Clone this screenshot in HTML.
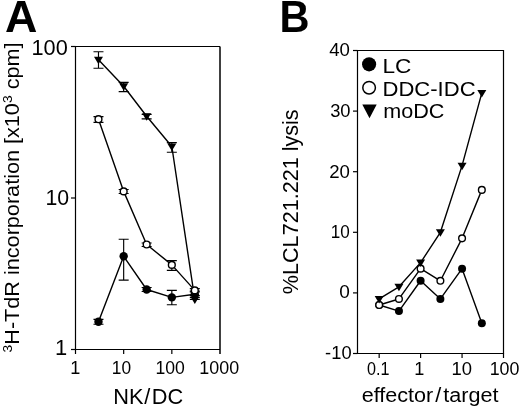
<!DOCTYPE html>
<html><head><meta charset="utf-8"><style>
html,body{margin:0;padding:0;background:#fff;width:520px;height:408px;overflow:hidden}
svg{display:block;will-change:transform;filter:blur(0.3px)}
</style></head><body>
<svg width="520" height="408" viewBox="0 0 520 408">
<rect width="520" height="408" fill="#fff"/>
<g>
<path d="M220.0 46.5V354.0" fill="none" stroke="#000" stroke-width="1.5"/>
<path d="M220.0 46.5H75.5V349.5H220.0" fill="none" stroke="#000" stroke-width="1.2"/>
<path d="M71.0 349.50H75.5" stroke="#000" stroke-width="1.2"/>
<path d="M71.0 198.00H75.5" stroke="#000" stroke-width="1.2"/>
<path d="M71.0 46.50H75.5" stroke="#000" stroke-width="1.2"/>
<path d="M75.50 349.5V354.0" stroke="#000" stroke-width="1.2"/>
<path d="M123.67 349.5V354.0" stroke="#000" stroke-width="1.2"/>
<path d="M171.83 349.5V354.0" stroke="#000" stroke-width="1.2"/>
<polyline points="98.48,59.70 123.67,86.20 146.65,116.20 171.83,146.50 194.81,299.50" fill="none" stroke="#000" stroke-width="1.4" stroke-linejoin="round"/>
<polyline points="98.48,119.20 123.67,191.40 146.65,244.50 171.83,264.90 194.81,290.40" fill="none" stroke="#000" stroke-width="1.4" stroke-linejoin="round"/>
<polyline points="98.48,321.70 123.67,256.30 146.65,289.50 171.83,297.40 194.81,294.30" fill="none" stroke="#000" stroke-width="1.4" stroke-linejoin="round"/>
<path d="M98.48 51.70V68.20M93.48 51.70H103.48M93.48 68.20H103.48" stroke="#000" stroke-width="1.15" fill="none"/>
<path d="M123.67 82.30V91.60M118.67 82.30H128.67M118.67 91.60H128.67" stroke="#000" stroke-width="1.15" fill="none"/>
<path d="M146.65 114.40V118.80M141.65 114.40H151.65M141.65 118.80H151.65" stroke="#000" stroke-width="1.15" fill="none"/>
<path d="M171.83 142.60V152.20M166.83 142.60H176.83M166.83 152.20H176.83" stroke="#000" stroke-width="1.15" fill="none"/>
<path d="M194.81 295.60V299.40M189.81 295.60H199.81M189.81 299.40H199.81" stroke="#000" stroke-width="1.15" fill="none"/>
<path d="M98.48 116.60V122.30M93.48 116.60H103.48M93.48 122.30H103.48" stroke="#000" stroke-width="1.15" fill="none"/>
<path d="M123.67 189.50V193.50M118.67 189.50H128.67M118.67 193.50H128.67" stroke="#000" stroke-width="1.15" fill="none"/>
<path d="M146.65 243.00V246.50M141.65 243.00H151.65M141.65 246.50H151.65" stroke="#000" stroke-width="1.15" fill="none"/>
<path d="M171.83 260.60V270.30M166.83 260.60H176.83M166.83 270.30H176.83" stroke="#000" stroke-width="1.15" fill="none"/>
<path d="M194.81 288.60V291.80M189.81 288.60H199.81M189.81 291.80H199.81" stroke="#000" stroke-width="1.15" fill="none"/>
<path d="M98.48 319.30V324.20M93.48 319.30H103.48M93.48 324.20H103.48" stroke="#000" stroke-width="1.15" fill="none"/>
<path d="M123.67 239.20V280.10M118.67 239.20H128.67M118.67 280.10H128.67" stroke="#000" stroke-width="1.15" fill="none"/>
<path d="M146.65 287.50V291.50M141.65 287.50H151.65M141.65 291.50H151.65" stroke="#000" stroke-width="1.15" fill="none"/>
<path d="M171.83 290.40V304.70M166.83 290.40H176.83M166.83 304.70H176.83" stroke="#000" stroke-width="1.15" fill="none"/>
<path d="M194.81 291.00V297.50M189.81 291.00H199.81M189.81 297.50H199.81" stroke="#000" stroke-width="1.15" fill="none"/>
<circle cx="98.48" cy="321.70" r="4.2" fill="#000"/>
<circle cx="123.67" cy="256.30" r="4.2" fill="#000"/>
<circle cx="146.65" cy="289.50" r="4.2" fill="#000"/>
<circle cx="171.83" cy="297.40" r="4.2" fill="#000"/>
<circle cx="194.81" cy="294.30" r="4.2" fill="#000"/>
<circle cx="98.48" cy="119.20" r="3.4" fill="#fff" stroke="#000" stroke-width="1.4"/>
<circle cx="123.67" cy="191.40" r="3.4" fill="#fff" stroke="#000" stroke-width="1.4"/>
<circle cx="146.65" cy="244.50" r="3.4" fill="#fff" stroke="#000" stroke-width="1.4"/>
<circle cx="171.83" cy="264.90" r="3.4" fill="#fff" stroke="#000" stroke-width="1.4"/>
<circle cx="194.81" cy="290.40" r="3.4" fill="#fff" stroke="#000" stroke-width="1.4"/>
<path d="M93.98 56.70L102.98 56.70L98.48 64.20Z" fill="#000"/>
<path d="M119.17 83.20L128.17 83.20L123.67 90.70Z" fill="#000"/>
<path d="M142.15 113.20L151.15 113.20L146.65 120.70Z" fill="#000"/>
<path d="M167.33 143.50L176.33 143.50L171.83 151.00Z" fill="#000"/>
<path d="M190.31 296.50L199.31 296.50L194.81 304.00Z" fill="#000"/>
</g>
<path d="M357.5 50.5H503.5V353.5H357.5Z" fill="none" stroke="#000" stroke-width="1.2"/>
<path d="M353.0 353.50H357.5" stroke="#000" stroke-width="1.2"/>
<path d="M353.0 292.90H357.5" stroke="#000" stroke-width="1.2"/>
<path d="M353.0 232.30H357.5" stroke="#000" stroke-width="1.2"/>
<path d="M353.0 171.70H357.5" stroke="#000" stroke-width="1.2"/>
<path d="M353.0 111.10H357.5" stroke="#000" stroke-width="1.2"/>
<path d="M353.0 50.50H357.5" stroke="#000" stroke-width="1.2"/>
<path d="M379.17 353.5V358.0" stroke="#000" stroke-width="1.2"/>
<path d="M420.61 353.5V358.0" stroke="#000" stroke-width="1.2"/>
<path d="M462.06 353.5V358.0" stroke="#000" stroke-width="1.2"/>
<path d="M503.50 353.5V358.0" stroke="#000" stroke-width="1.2"/>
<polyline points="379.17,305.02 398.94,311.08 420.61,280.78 440.39,298.96 462.06,268.66 481.83,323.20" fill="none" stroke="#000" stroke-width="1.4" stroke-linejoin="round"/>
<polyline points="379.17,305.02 398.94,298.96 420.61,268.66 440.39,280.78 462.06,238.36 481.83,189.88" fill="none" stroke="#000" stroke-width="1.4" stroke-linejoin="round"/>
<polyline points="379.17,298.96 398.94,286.84 420.61,262.60 440.39,232.30 462.06,165.64 481.83,92.92" fill="none" stroke="#000" stroke-width="1.4" stroke-linejoin="round"/>
<circle cx="379.17" cy="305.02" r="4.0" fill="#000"/>
<circle cx="398.94" cy="311.08" r="4.0" fill="#000"/>
<circle cx="420.61" cy="280.78" r="4.0" fill="#000"/>
<circle cx="440.39" cy="298.96" r="4.0" fill="#000"/>
<circle cx="462.06" cy="268.66" r="4.0" fill="#000"/>
<circle cx="481.83" cy="323.20" r="4.0" fill="#000"/>
<circle cx="379.17" cy="305.02" r="3.35" fill="#fff" stroke="#000" stroke-width="1.4"/>
<circle cx="398.94" cy="298.96" r="3.35" fill="#fff" stroke="#000" stroke-width="1.4"/>
<circle cx="420.61" cy="268.66" r="3.35" fill="#fff" stroke="#000" stroke-width="1.4"/>
<circle cx="440.39" cy="280.78" r="3.35" fill="#fff" stroke="#000" stroke-width="1.4"/>
<circle cx="462.06" cy="238.36" r="3.35" fill="#fff" stroke="#000" stroke-width="1.4"/>
<circle cx="481.83" cy="189.88" r="3.35" fill="#fff" stroke="#000" stroke-width="1.4"/>
<path d="M374.67 295.96L383.67 295.96L379.17 303.46Z" fill="#000"/>
<path d="M394.44 283.84L403.44 283.84L398.94 291.34Z" fill="#000"/>
<path d="M416.11 259.60L425.11 259.60L420.61 267.10Z" fill="#000"/>
<path d="M435.89 229.30L444.89 229.30L440.39 236.80Z" fill="#000"/>
<path d="M457.56 162.64L466.56 162.64L462.06 170.14Z" fill="#000"/>
<path d="M477.33 89.92L486.33 89.92L481.83 97.42Z" fill="#000"/>
<circle cx="369.10" cy="64.35" r="7.05" fill="#000"/>
<circle cx="369.10" cy="87.70" r="6.3" fill="#fff" stroke="#000" stroke-width="1.5"/>
<path d="M362.3 104.5L376.7 104.5L369.5 118.3Z" fill="#000"/>
<g fill="#000">
<g transform="translate(5.10,31.53)"><text font-family='"Liberation Sans", sans-serif' font-size="44.073" font-weight="bold" transform="scale(1.0171,1)">A</text></g>
<g transform="translate(279.62,31.85)"><text font-family='"Liberation Sans", sans-serif' font-size="43.790" font-weight="bold" transform="scale(0.9484,1)">B</text></g>
<g transform="translate(31.50,55.40)"><text font-family='"Liberation Sans", sans-serif' font-size="21.900" transform="scale(0.9912,1)">100</text></g>
<g transform="translate(45.38,205.40)"><text font-family='"Liberation Sans", sans-serif' font-size="21.900" transform="scale(0.9724,1)">10</text></g>
<g transform="translate(54.92,355.00)"><text font-family='"Liberation Sans", sans-serif' font-size="21.900" transform="scale(1.0000,1)">1</text></g>
<g transform="translate(70.22,374.33)"><text font-family='"Liberation Sans", sans-serif' font-size="18.100" transform="scale(1.0000,1)">1</text></g>
<g transform="translate(111.78,374.33)"><text font-family='"Liberation Sans", sans-serif' font-size="18.100" transform="scale(0.9585,1)">10</text></g>
<g transform="translate(155.45,374.33)"><text font-family='"Liberation Sans", sans-serif' font-size="18.100" transform="scale(0.9733,1)">100</text></g>
<g transform="translate(199.28,374.33)"><text font-family='"Liberation Sans", sans-serif' font-size="18.100" transform="scale(0.9895,1)">1000</text></g>
<g transform="translate(113.32,403.58)"><text font-family='"Liberation Sans", sans-serif' font-size="21.364" transform="scale(1.0201,1)">NK<tspan dx="0.6">/</tspan><tspan dx="1.4">DC</tspan></text></g>
<g transform="translate(329.25,56.12)"><text font-family='"Liberation Sans", sans-serif' font-size="18.100" transform="scale(1.0290,1)">40</text></g>
<g transform="translate(330.15,116.62)"><text font-family='"Liberation Sans", sans-serif' font-size="18.100" transform="scale(1.0133,1)">30</text></g>
<g transform="translate(329.15,177.72)"><text font-family='"Liberation Sans", sans-serif' font-size="18.100" transform="scale(1.0298,1)">20</text></g>
<g transform="translate(330.85,237.72)"><text font-family='"Liberation Sans", sans-serif' font-size="18.100" transform="scale(0.9444,1)">10</text></g>
<g transform="translate(339.30,298.23)"><text font-family='"Liberation Sans", sans-serif' font-size="18.100" transform="scale(1.0532,1)">0</text></g>
<g transform="translate(325.10,358.73)"><text font-family='"Liberation Sans", sans-serif' font-size="18.100" transform="scale(1.0122,1)">-10</text></g>
<g transform="translate(367.05,375.48)"><text font-family='"Liberation Sans", sans-serif' font-size="18.100" transform="scale(0.8936,1)">0.1</text></g>
<g transform="translate(414.18,375.48)"><text font-family='"Liberation Sans", sans-serif' font-size="18.100" transform="scale(1.0000,1)">1</text></g>
<g transform="translate(451.42,375.48)"><text font-family='"Liberation Sans", sans-serif' font-size="18.100" transform="scale(1.0195,1)">10</text></g>
<g transform="translate(489.68,375.48)"><text font-family='"Liberation Sans", sans-serif' font-size="18.100" transform="scale(0.9858,1)">100</text></g>
<g transform="translate(361.65,401.80)"><text font-family='"Liberation Sans", sans-serif' font-size="21.055" transform="scale(1.0253,1)">effector<tspan dx="1.9">/</tspan><tspan dx="2.0">target</tspan></text></g>
<g transform="translate(382.42,72.53)"><text font-family='"Liberation Sans", sans-serif' font-size="21.000" transform="scale(1.0784,1)">LC</text></g>
<g transform="translate(382.52,95.55)"><text font-family='"Liberation Sans", sans-serif' font-size="21.000" transform="scale(1.0500,1)">DDC-IDC</text></g>
<g transform="translate(383.27,118.17)"><text font-family='"Liberation Sans", sans-serif' font-size="21.000" transform="scale(1.0289,1)">moDC</text></g>
<g transform="translate(18.62,352.50)"><g transform="rotate(-90)"><text font-family='"Liberation Sans", sans-serif' font-size="20.800" transform="scale(1.0400,1)"><tspan font-size="13.4" dy="-6.6">3</tspan><tspan dy="6.6">H-TdR incorporation [x10</tspan><tspan font-size="13.4" dy="-6.6">3</tspan><tspan dy="6.6"> cpm]</tspan></text></g></g>
<g transform="translate(297.85,294.18)"><g transform="rotate(-90)"><text font-family='"Liberation Sans", sans-serif' font-size="21.286" transform="scale(1.0145,1)">%LCL721.221 lysis</text></g></g>
</g>
</svg>
</body></html>
